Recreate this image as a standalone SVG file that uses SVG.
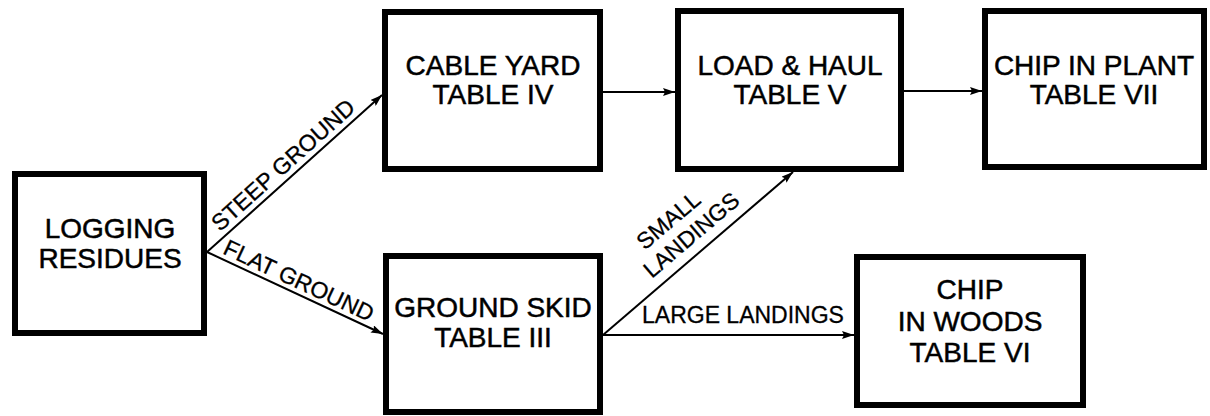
<svg xmlns="http://www.w3.org/2000/svg" width="1210" height="416" viewBox="0 0 1210 416">
<defs>
<style>
.box{fill:#fff;stroke:#000;stroke-width:6}
.bt{font-family:"Liberation Sans",Arial,Helvetica,sans-serif;font-size:28px;fill:#000;stroke:#000;stroke-width:0.5;text-anchor:middle}
.el{font-family:"Liberation Sans",Arial,Helvetica,sans-serif;font-size:23px;fill:#000;stroke:#000;stroke-width:0.3}
.con{stroke:#000;stroke-width:2;fill:none;marker-end:url(#ah)}
</style>
<marker id="ah" markerUnits="userSpaceOnUse" markerWidth="12" markerHeight="8" refX="12" refY="4" orient="auto">
<path d="M0,0 L12,4 L0,8 L2,4 z" fill="#000"/>
</marker>
</defs>
<rect width="1210" height="416" fill="#fff"/>
<g id="connectors">
<line class="con" x1="207" y1="252" x2="382" y2="95"/>
<line class="con" x1="207" y1="252" x2="383" y2="334"/>
<line class="con" x1="603" y1="92" x2="675" y2="92"/>
<line class="con" x1="904" y1="91" x2="982" y2="91"/>
<line class="con" x1="603" y1="335" x2="793" y2="172"/>
<line class="con" x1="603" y1="335" x2="854" y2="335"/>
<text class="el" transform="translate(224,236.6) rotate(-41.9)" x="0" y="-6">STEEP GROUND</text>
<text class="el" transform="translate(219.7,257.9) rotate(25)" x="0" y="-5">FLAT GROUND</text>
<g transform="translate(702,250.6) rotate(-40.45)">
<text class="el" text-anchor="middle" x="-6" y="-37">SMALL</text>
<text class="el" text-anchor="middle" x="2" y="-11">LANDINGS</text>
</g>
<text class="el" x="642" y="323">LARGE LANDINGS</text>
</g>
<g id="logging">
<rect class="box" x="15" y="174" width="189" height="159"/>
<text class="bt" x="110" y="238">LOGGING</text>
<text class="bt" x="110" y="268">RESIDUES</text>
</g>
<g id="cable">
<rect class="box" x="385" y="12" width="215" height="157"/>
<text class="bt" x="493" y="75">CABLE YARD</text>
<text class="bt" x="493" y="104">TABLE IV</text>
</g>
<g id="load">
<rect class="box" x="678" y="11" width="223" height="158"/>
<text class="bt" x="790" y="75">LOAD &amp; HAUL</text>
<text class="bt" x="790" y="104">TABLE V</text>
</g>
<g id="plant">
<rect class="box" x="985" y="11" width="219" height="156"/>
<text class="bt" x="1094" y="75" font-size="29">CHIP IN PLANT</text>
<text class="bt" x="1094" y="104">TABLE VII</text>
</g>
<g id="skid">
<rect class="box" x="386" y="256" width="214" height="156"/>
<text class="bt" x="493" y="317">GROUND SKID</text>
<text class="bt" x="493" y="347">TABLE III</text>
</g>
<g id="woods">
<rect class="box" x="857" y="257" width="226" height="148"/>
<text class="bt" x="970" y="299">CHIP</text>
<text class="bt" x="970" y="331">IN WOODS</text>
<text class="bt" x="970" y="362">TABLE VI</text>
</g>
</svg>
